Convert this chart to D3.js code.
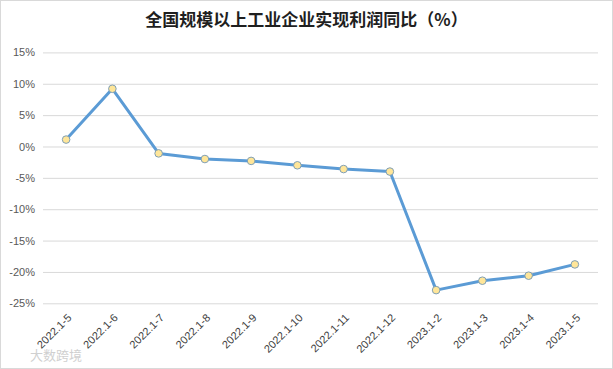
<!DOCTYPE html>
<html>
<head>
<meta charset="utf-8">
<script src="https://cdn.jsdelivr.net/npm/d3@7"></script>
<style>
  body { margin: 0; background: #fff; }
  #chart { width: 613px; height: 369px; }
</style>
</head>
<body>
<div id="chart"></div>
<script>
const categories = ['2022.1-5', '2022.1-6', '2022.1-7', '2022.1-8', '2022.1-9', '2022.1-10',
  '2022.1-11', '2022.1-12', '2023.1-2', '2023.1-3', '2023.1-4', '2023.1-5'];
const profitYoY = [1.1, 9.2, -1.1, -2.0, -2.3, -3.0, -3.6, -4.0, -22.9, -21.4, -20.6, -18.8];
const yTicks = [15, 10, 5, 0, -5, -10, -15, -20, -25];

const width = 613, height = 369;
const plotLeft = 43, plotRight = 598, plotTop = 52.4, plotBottom = 303.3;

const svg = d3.select('#chart').append('svg')
  .attr('width', width)
  .attr('height', height)
  .style('font-family', '"Noto Sans", "Noto Sans CJK SC", sans-serif');

// frame
svg.append('rect')
  .attr('x', 0.5).attr('y', 0.5)
  .attr('width', width - 1).attr('height', height - 1)
  .attr('fill', '#fff')
  .attr('stroke', '#d9d9d9');

svg.append('text')
  .attr('x', width / 2)
  .attr('y', 26)
  .attr('text-anchor', 'middle')
  .attr('font-family', '"Noto Sans CJK SC", sans-serif')
  .attr('font-weight', 'bold')
  .attr('font-size', 17)
  .attr('fill', '#1f1f1f')
  .text('全国规模以上工业企业实现利润同比（%）');

const x = d3.scaleBand().domain(categories).range([plotLeft, plotRight]);
const y = d3.scaleLinear().domain([-25, 15]).range([plotBottom, plotTop]);

const yAxis = svg.append('g')
  .attr('transform', `translate(${plotLeft},0)`)
  .call(d3.axisLeft(y).tickValues(yTicks).tickSize(-(plotRight - plotLeft)).tickFormat(d => d + '%'));
yAxis.select('.domain').remove();
yAxis.selectAll('.tick line').attr('stroke', '#d9d9d9');
yAxis.selectAll('.tick text')
  .attr('x', -8)
  .attr('fill', '#595959')
  .attr('font-size', 11);

const xAxis = svg.append('g')
  .attr('transform', `translate(0,${plotBottom})`)
  .call(d3.axisBottom(x).tickSize(0));
xAxis.select('.domain').remove();
xAxis.selectAll('.tick text')
  .attr('fill', '#404040')
  .attr('font-size', 11)
  .attr('text-anchor', 'end')
  .attr('dy', 0)
  .attr('transform', 'translate(4,13) rotate(-45)');

const cx = d => x(d) + x.bandwidth() / 2;

svg.append('path')
  .datum(profitYoY)
  .attr('fill', 'none')
  .attr('stroke', '#5b9bd5')
  .attr('stroke-width', 3)
  .attr('stroke-linejoin', 'round')
  .attr('d', d3.line().x((d, i) => cx(categories[i])).y(d => y(d)));

svg.selectAll('circle.pt')
  .data(profitYoY)
  .enter().append('circle')
  .attr('class', 'pt')
  .attr('cx', (d, i) => cx(categories[i]))
  .attr('cy', d => y(d))
  .attr('r', 3.8)
  .attr('fill', '#ffe699')
  .attr('stroke', '#7f9fb5')
  .attr('stroke-width', 1);

// watermark
svg.append('text')
  .attr('x', 30)
  .attr('y', 360)
  .attr('font-family', '"Noto Sans CJK SC", sans-serif')
  .attr('font-size', 13)
  .attr('fill', '#d0d0d0')
  .text('大数跨境');
</script>
</body>
</html>
